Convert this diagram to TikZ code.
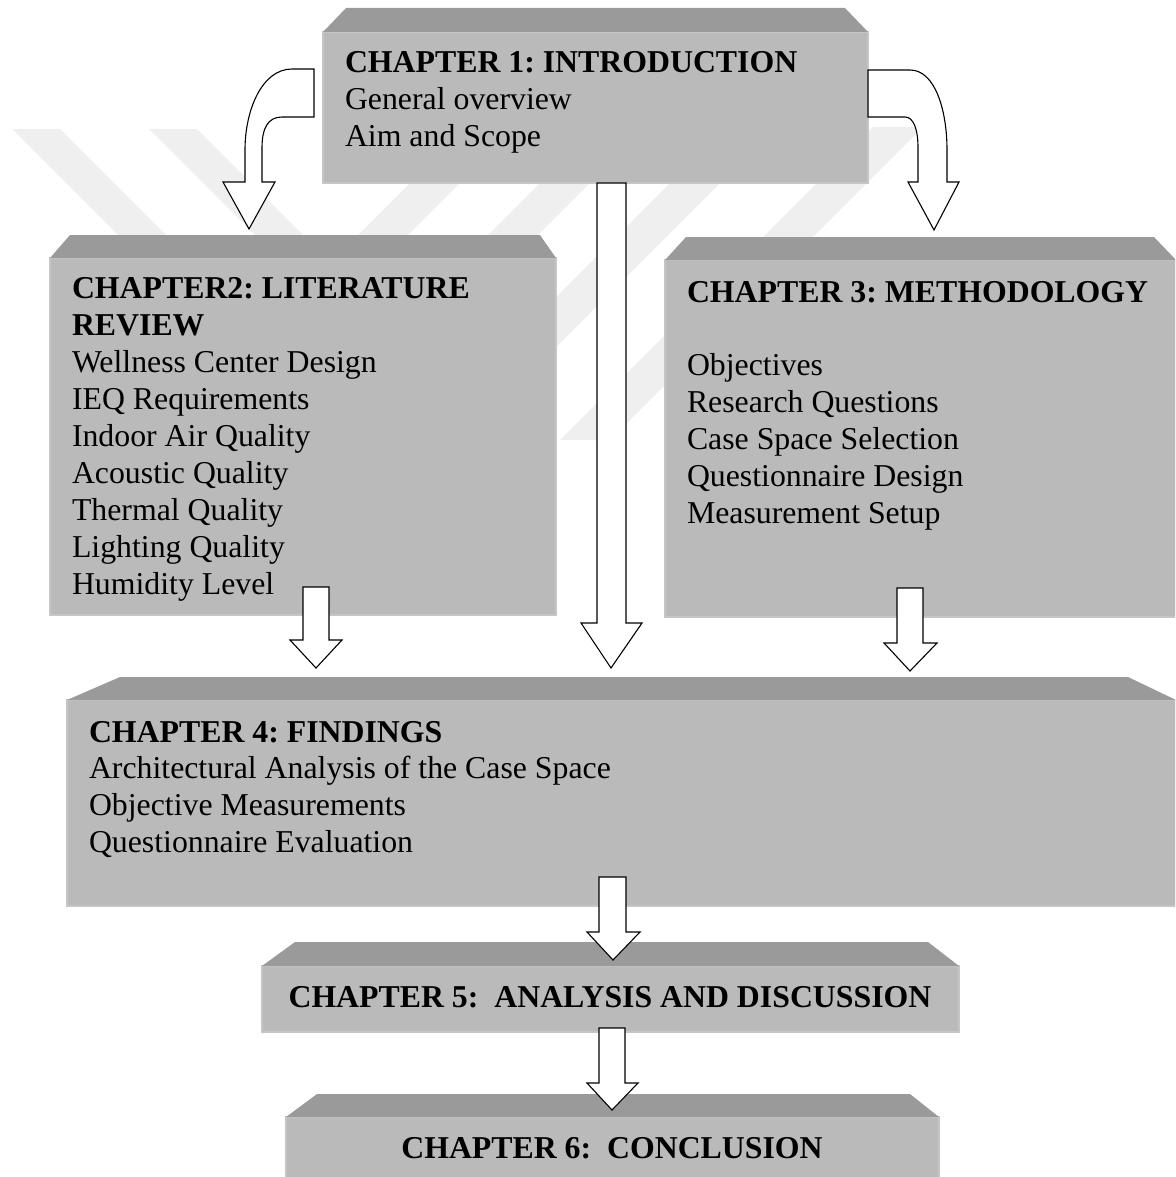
\documentclass[tikz,border=0pt]{standalone}
\usepackage{fontspec}
\setmainfont{Liberation Serif}
\usetikzlibrary{calc}
\frenchspacing
\definecolor{facegray}{HTML}{BABABA}
\definecolor{faceedge}{HTML}{C6C6C6}
\definecolor{bevelgray}{HTML}{9A9A9A}
\definecolor{wmgray}{HTML}{EFEFEF}
% #1 name, #2 x1, #3 y1 (face top), #4 x2, #5 y2, #6 bevel top y, #7 left inset, #8 right inset
\newcommand\chbox[8]{%
  \node[face,anchor=north west,minimum width={#4-#2},minimum height={#5-#3}] (#1) at (#2,#3) {};
  \fill[bevelgray] (#1.north west) -- (#1.north east) -- (#4-#8,#6) -- (#2+#7,#6) -- cycle;}
% block arrow: #1 #2 shaft x, #3 shaft top, #4 head base y, #5 #6 head x, #7 #8 tip
\newcommand\blkarrow[8]{%
  \filldraw[arr] (#1,#3) -- (#2,#3) -- (#2,#4) -- (#6,#4) -- (#7,#8) -- (#5,#4) -- (#1,#4) -- cycle;}
\begin{document}
\begin{tikzpicture}[x=1pt,y=-1pt,
  face/.style={rectangle,fill=facegray,draw=faceedge,line width=1.2pt,inner sep=0pt,outer sep=0pt},
  arr/.style={fill=white,draw=black,line width=1.1pt,line join=miter},
  txt/.style={font=\fontsize{31.8}{37}\selectfont,inner sep=0pt,outer sep=0pt,text=black},
  btxt/.style={font=\fontsize{31.8}{37}\selectfont\bfseries,inner sep=0pt,outer sep=0pt,text=black}]
\useasboundingbox (0,0) rectangle (1175,1177);
\clip (0,0) rectangle (1175,1177);
% faint watermark stripes
\foreach \k in {69,-68}
  \fill[wmgray] ({129-\k-48},129) -- ({129-\k},129) -- ({440-\k},440) -- ({440-\k-48},440) -- cycle;
\foreach \s in {593,723,853,1000}
  \fill[wmgray] ({\s-127},127) -- ({\s+50-127},127) -- ({\s+50-440},440) -- ({\s-440},440) -- cycle;
% boxes
\chbox{b1}{323}{32}{868}{183}{8}{23}{23}
\chbox{b2}{50}{258}{556}{615}{235}{20}{16}
\chbox{b3}{665}{260}{1176}{617}{237}{21}{22}
\chbox{b4}{67}{700}{1176}{906}{677}{53}{48}
\chbox{b5}{262}{966}{959}{1032}{942}{33}{31}
\chbox{b6}{286}{1117}{939}{1190}{1094}{31}{29}
% texts
\node[btxt,anchor=base west] (t1) at (345,73) {CHAPTER 1: INTRODUCTION};
\node[txt,anchor=base west] (t1a) at (345,110) {General overview};
\node[txt,anchor=base west] (t1b) at (345,147) {Aim and Scope};
\node[btxt,anchor=base west] (t2) at (72,298) {CHAPTER2: LITERATURE};
\node[btxt,anchor=base west] (t2r) at (72,335) {REVIEW};
\foreach \t [count=\i] in {Wellness Center Design,IEQ Requirements,Indoor Air Quality,Acoustic Quality,Thermal Quality,Lighting Quality,Humidity Level}
  \node[txt,anchor=base west] (t2l\i) at (72,{335+37*\i}) {\t};
\node[btxt,anchor=base west] (t3) at (687,302) {CHAPTER 3: METHODOLOGY};
\foreach \t [count=\i] in {Objectives,Research Questions,Case Space Selection,Questionnaire Design,Measurement Setup}
  \node[txt,anchor=base west] (t3l\i) at (687,{338+37*\i}) {\t};
\node[btxt,anchor=base west] (t4) at (89,742) {CHAPTER 4: FINDINGS};
\foreach \t [count=\i] in {Architectural Analysis of the Case Space,Objective Measurements,Questionnaire Evaluation}
  \node[txt,anchor=base west] (t4l\i) at (89,{741+37*\i}) {\t};
\node[btxt,anchor=base] (t5) at (610,1007) {CHAPTER 5:\ \ ANALYSIS AND DISCUSSION};
\node[btxt,anchor=base] (t6) at (612,1158) {CHAPTER 6:\ \ CONCLUSION};
% curved arrows from chapter 1
\filldraw[arr] (314,69) -- (292,69) .. controls (262,69) and (245,110) .. (245,150) -- (245,182)
  -- (223,182) -- (249,229) -- (275,182) -- (262,182) -- (262,148)
  .. controls (262,128) and (268,117) .. (282,117) -- (314,117) -- cycle;
\filldraw[arr] (b1.east |- 0,70) -- (910,70) .. controls (935,70) and (947,110) .. (947,150) -- (947,182)
  -- (959,182) -- (934,230) -- (908,182) -- (918,182) -- (918,148)
  .. controls (918,128) and (913,117) .. (905,117) -- (b1.east |- 0,117) -- cycle;
% straight block arrows
\blkarrow{597}{626}{183}{623}{581}{642}{611}{668}
\blkarrow{303}{329}{587}{640}{290}{342}{316}{668}
\blkarrow{897}{923}{588}{643}{884}{937}{910}{671}
\blkarrow{599}{626}{877}{932}{587}{640}{613}{960}
\blkarrow{599}{625}{1028}{1083}{587}{638}{612}{1110}
\end{tikzpicture}
\end{document}
